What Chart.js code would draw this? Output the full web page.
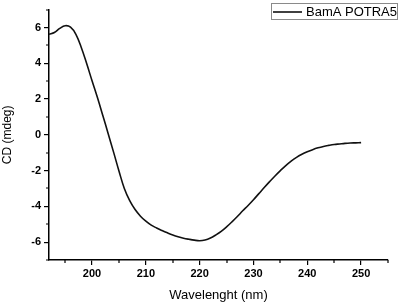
<!DOCTYPE html>
<html><head><meta charset="utf-8">
<script src="https://cdn.jsdelivr.net/npm/chart.js@4"></script>
<style>html,body{margin:0;padding:0;background:#fff}#wrap{width:400px;height:303px}</style>
</head><body><div id="wrap"><canvas id="c" width="400" height="303"></canvas></div>
<script>
const wavelengths = [192,193,194,195,196,197,198,199,200,201,202,203,204,205,206,207,208,209,210,211,212,213,214,215,216,217,218,219,220,221,222,223,224,225,226,227,228,229,230,231,232,233,234,235,236,237,238,239,240,241,242,243,244,245,246,247,248,249,250];
const cdValues = [5.62,5.72,5.95,6.10,6.02,5.62,4.88,3.98,3.02,2.08,1.08,0.06,-0.97,-2.02,-3.0,-3.68,-4.18,-4.55,-4.83,-5.05,-5.21,-5.35,-5.48,-5.6,-5.7,-5.78,-5.84,-5.89,-5.92,-5.88,-5.77,-5.6,-5.4,-5.15,-4.87,-4.57,-4.25,-3.95,-3.63,-3.29,-2.95,-2.62,-2.3,-2.0,-1.72,-1.47,-1.26,-1.09,-0.95,-0.83,-0.73,-0.65,-0.59,-0.54,-0.51,-0.48,-0.46,-0.45,-0.44];
const seriesLabel = 'BamA POTRA5';
const xTicks = [200,210,220,230,240,250];
const xMinorTicks = [195,205,215,225,235,245,255];
const yTicks = [-6,-4,-2,0,2,4,6];
const yMinorTicks = [-7,-5,-3,-1,1,3,5,7];

const FONT = 'Liberation Sans, Arial, sans-serif';

const minorTicksPlugin = {
  id: 'minorTicks',
  afterDraw(chart) {
    const ctx = chart.ctx, xs = chart.scales.x, ys = chart.scales.y;
    const a = chart.chartArea;
    ctx.save();
    ctx.strokeStyle = '#000';
    ctx.lineWidth = 1.2;
    ctx.beginPath();
    xMinorTicks.forEach(v => { const px = Math.round(xs.getPixelForValue(v)); ctx.moveTo(px, a.bottom); ctx.lineTo(px, a.bottom + 3); });
    yMinorTicks.forEach(v => { const py = Math.round(ys.getPixelForValue(v)); ctx.moveTo(a.left, py); ctx.lineTo(a.left - 3, py); });
    ctx.stroke();
    ctx.restore();
  }
};

const legendBoxPlugin = {
  id: 'legendBox',
  afterDraw(chart) {
    const ctx = chart.ctx;
    ctx.save();
    ctx.strokeStyle = '#8a8a8a';
    ctx.lineWidth = 1;
    ctx.strokeRect(271.5, 3.5, 126, 16);
    ctx.strokeStyle = '#000';
    ctx.lineWidth = 1.5;
    ctx.beginPath(); ctx.moveTo(273, 12); ctx.lineTo(302, 12); ctx.stroke();
    ctx.fillStyle = '#000';
    ctx.font = '13px ' + FONT;
    ctx.textBaseline = 'middle';
    ctx.textAlign = 'left';
    ctx.fillText(chart.data.datasets[0].label, 306, 12);
    ctx.restore();
  }
};

new Chart(document.getElementById('c'), {
  type: 'line',
  data: {
    datasets: [{
      label: seriesLabel,
      data: wavelengths.map((w, i) => ({x: w, y: cdValues[i]})),
      borderColor: '#111',
      borderWidth: 1.6,
      pointRadius: 0,
      tension: 0.4,
      fill: false
    }]
  },
  options: {
    responsive: false,
    animation: false,
    layout: { padding: { left: 0, right: 12, top: 7, bottom: 0 } },
    plugins: { legend: { display: false }, tooltip: { enabled: false } },
    scales: {
      x: {
        type: 'linear', min: 192, max: 255,
        afterBuildTicks: s => { s.ticks = xTicks.map(v => ({value: v})); },
        afterFit: s => { s.height = 43; },
        grid: { display: true, drawOnChartArea: false, drawTicks: true, tickLength: 5, color: '#000', lineWidth: 1.2 },
        border: { display: true, color: '#000', width: 1.5 },
        ticks: { color: '#000', font: { family: FONT, size: 11, weight: 'bold' }, padding: 2, maxRotation: 0, autoSkip: false },
        title: { display: true, text: 'Wavelenght (nm)', color: '#000', font: { family: FONT, size: 13 }, padding: { top: 5, bottom: 0 } }
      },
      y: {
        type: 'linear', min: -7, max: 7,
        afterBuildTicks: s => { s.ticks = yTicks.map(v => ({value: v})); },
        afterFit: s => { s.width = 49; },
        grid: { display: true, drawOnChartArea: false, drawTicks: true, tickLength: 5, color: '#000', lineWidth: 1.2 },
        border: { display: true, color: '#000', width: 1.5 },
        ticks: { color: '#000', font: { family: FONT, size: 11, weight: 'bold' }, padding: 3, autoSkip: false },
        title: { display: true, text: 'CD (mdeg)', color: '#000', font: { family: FONT, size: 12 }, padding: { top: 0, bottom: 2 } }
      }
    }
  },
  plugins: [minorTicksPlugin, legendBoxPlugin]
});
</script></body></html>
